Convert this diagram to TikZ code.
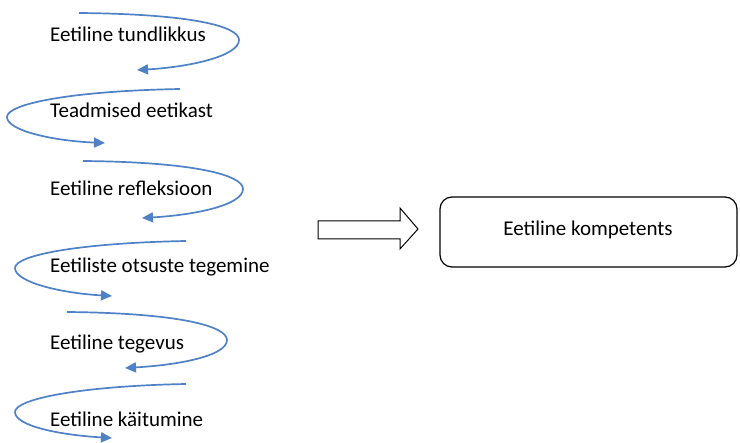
\documentclass[tikz,border=0pt]{standalone}
\usepackage{fontspec}
\setmainfont{Carlito}
\usetikzlibrary{arrows.meta}
\definecolor{spiralblue}{RGB}{79,129,199}

\begin{document}
\begin{tikzpicture}[x=1pt,y=-1pt,
	spiral/.style={spiralblue,line width=1.7pt,-{Triangle[length=11pt,width=10pt]}},
	step label/.style={anchor=base west,inner sep=0pt,font=\fontsize{21}{24}\selectfont}]
	\useasboundingbox (0,0) rectangle (740,443);
	% steps
	\node[step label] (tundlikkus) at (50,42) {Eetiline tundlikkus};
	\node[step label] (teadmised) at (50,118) {Teadmised eetikast};
	\node[step label] (refleksioon) at (50,196) {Eetiline refleksioon};
	\node[step label] (otsused) at (50,273) {Eetiliste otsuste tegemine};
	\node[step label] (tegevus) at (50,350) {Eetiline tegevus};
	\node[step label] (kaitumine) at (50,427) {Eetiline käitumine};
	% spiral ends
	\coordinate (s1) at (79,13);   \coordinate (t1) at (137,70);
	\coordinate (s2) at (180,89);  \coordinate (t2) at (105,143);
	\coordinate (s3) at (83,161);  \coordinate (t3) at (142,218);
	\coordinate (s4) at (186,241); \coordinate (t4) at (112,296);
	\coordinate (s5) at (67,312);  \coordinate (t5) at (125,368);
	\coordinate (s6) at (186,384); \coordinate (t6) at (112,438);
	\draw[spiral] (s1) .. controls (190,14) and (239,26) .. (239,40) .. controls (239,56) and (190,67) .. (t1);
	\draw[spiral] (s2) .. controls (70,91) and (7,104) .. (7,117) .. controls (7,131) and (55,141) .. (t2);
	\draw[spiral] (s3) .. controls (194,162) and (243,175) .. (243,189) .. controls (243,205) and (195,215) .. (t3);
	\draw[spiral] (s4) .. controls (80,243) and (15,255) .. (15,268) .. controls (15,282) and (60,293) .. (t4);
	\draw[spiral] (s5) .. controls (178,313) and (227,326) .. (227,340) .. controls (227,356) and (178,365) .. (t5);
	\draw[spiral] (s6) .. controls (80,386) and (15,399) .. (15,412) .. controls (15,426) and (60,435) .. (t6);
	% result
	\draw[line width=1pt] (318,221)--(400,221)--(400,208)--(418,229)--(400,249)--(400,239)--(318,239)--cycle;
	\node[draw,line width=1.2pt,rounded corners=12pt,minimum width=297pt,minimum height=70pt] (kompetents) at (588.5,232) {};
	\node[anchor=base,inner sep=0pt,font=\fontsize{21}{24}\selectfont] (kompt) at (588,236) {Eetiline kompetents};
\end{tikzpicture}
\end{document}
